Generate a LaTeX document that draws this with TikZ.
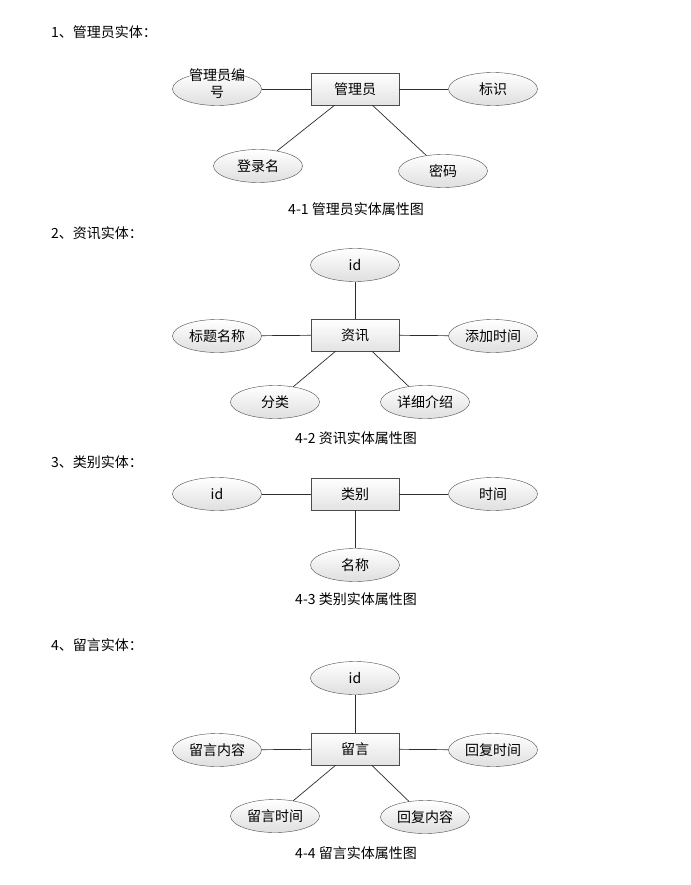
\documentclass[tikz,border=0pt]{standalone}
\usepackage{fontspec}
\setmainfont{Noto Sans CJK SC}
\usetikzlibrary{shapes.geometric,shadows}

\begin{document}
\begin{tikzpicture}[x=1pt,y=-1pt,
    attr/.style={ellipse, draw=gray!60!black, top color=white, bottom color=gray!25,
        minimum width=89pt, minimum height=33pt, inner sep=0pt, font=\fontsize{14}{16}\selectfont},
    entity/.style={rectangle, draw=gray!60!black, top color=white, bottom color=gray!22,
        minimum width=88pt, minimum height=32pt, inner sep=0pt, font=\fontsize{14}{16}\selectfont,
        drop shadow={shadow xshift=1.2pt, shadow yshift=-1.2pt, fill=gray!45}},
    link/.style={draw=gray!35!black, line width=0.7pt},
    head/.style={anchor=west, inner sep=0pt, font=\fontsize{14}{16}\selectfont},
    caption/.style={inner sep=0pt, font=\fontsize{14}{16}\selectfont}]
    \useasboundingbox[fill=white] (0,0) rectangle (690,885);

    % 1 admin
    \node[head] (h1) at (51,32) {1、管理员实体：};
    \node[entity] (adm) at (355,89) {管理员};
    \node[attr] (admno) at (217,89) {\smash{\begin{tabular}[c]{@{}c@{}}管理员编\\[1pt]号\end{tabular}}};
    \node[attr] (admid) at (493,89) {标识};
    \node[attr] (admlogin) at (258,166) {登录名};
    \node[attr] (admpwd) at (443,171) {密码};
    \draw[link] (adm) -- (admno);
    \draw[link] (adm) -- (admid);
    \draw[link] (adm) -- (admlogin);
    \draw[link] (adm) -- (admpwd);
    \node[caption] (c1) at (356,209) {4-1 管理员实体属性图};

    % 2 news
    \node[head] (h2) at (51,233) {2、资讯实体：};
    \node[entity] (news) at (355,335) {资讯};
    \node[attr] (newsid) at (355,265) {id};
    \node[attr] (newstitle) at (217,336) {标题名称};
    \node[attr] (newstime) at (493,336) {添加时间};
    \node[attr] (newstype) at (275,402) {分类};
    \node[attr] (newsinfo) at (425,402) {详细介绍};
    \draw[link] (news) -- (newsid);
    \draw[link] (news) -- (newstitle);
    \draw[link] (news) -- (newstime);
    \draw[link] (news) -- (newstype);
    \draw[link] (news) -- (newsinfo);
    \node[caption] (c2) at (356,438) {4-2 资讯实体属性图};

    % 3 category
    \node[head] (h3) at (51,462) {3、类别实体：};
    \node[entity] (cat) at (355,494) {类别};
    \node[attr] (catid) at (217,494) {id};
    \node[attr] (cattime) at (493,494) {时间};
    \node[attr] (catname) at (355,565) {名称};
    \draw[link] (cat) -- (catid);
    \draw[link] (cat) -- (cattime);
    \draw[link] (cat) -- (catname);
    \node[caption] (c3) at (356,599) {4-3 类别实体属性图};

    % 4 message
    \node[head] (h4) at (51,645) {4、留言实体：};
    \node[entity] (msg) at (355,749) {留言};
    \node[attr] (msgid) at (355,678) {id};
    \node[attr] (msgtext) at (217,750) {留言内容};
    \node[attr] (msgreplytime) at (493,750) {回复时间};
    \node[attr] (msgtime) at (275,816) {留言时间};
    \node[attr] (msgreply) at (425,817) {回复内容};
    \draw[link] (msg) -- (msgid);
    \draw[link] (msg) -- (msgtext);
    \draw[link] (msg) -- (msgreplytime);
    \draw[link] (msg) -- (msgtime);
    \draw[link] (msg) -- (msgreply);
    \node[caption] (c4) at (356,853) {4-4 留言实体属性图};
\end{tikzpicture}
\end{document}
